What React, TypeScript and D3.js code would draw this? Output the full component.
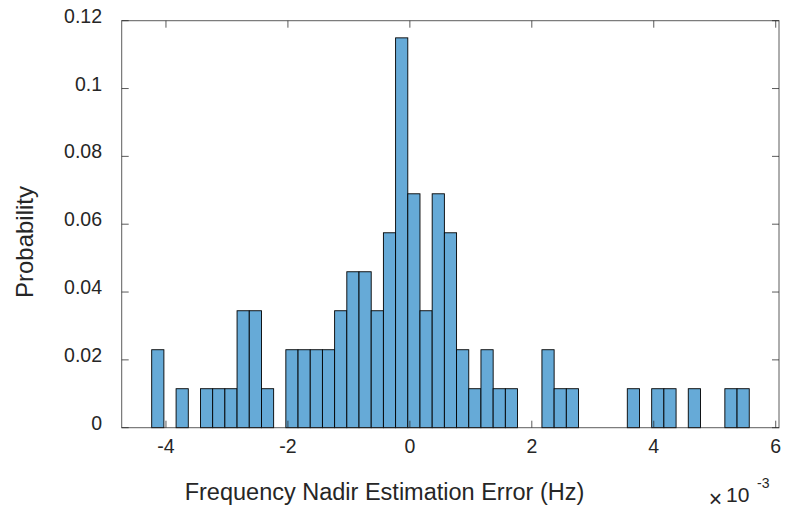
import React from "react";
import * as d3 from "d3";

// Histogram of frequency nadir estimation error (x in units of 1e-3 Hz)
const binStart = -4.234;
const binWidth = 0.2;
const binCounts = [
  2, 0, 1, 0, 1, 1, 1, 3, 3, 1,
  0, 2, 2, 2, 2, 3, 4, 4, 3, 5,
  10, 6, 3, 6, 5, 2, 1, 2, 1, 1,
  0, 0, 2, 1, 1, 0, 0, 0, 0, 1,
  0, 1, 1, 0, 1, 0, 0, 1, 1,
];
const xTicks = [-4, -2, 0, 2, 4, 6];
const yTicks = [0, 0.02, 0.04, 0.06, 0.08, 0.1, 0.12];
const xDomain = [-4.726, 6.054];
const yDomain = [0, 0.12];
const xLabel = "Frequency Nadir Estimation Error (Hz)";
const yLabel = "Probability";

const W = 788;
const H = 512;
const M = { left: 121.7, right: 779, top: 20.7, bottom: 427.7 };
const FONT = "'Liberation Sans', Arial, Helvetica, sans-serif";
const AX = "#262626";

export default function App() {
  const total = d3.sum(binCounts);
  const bins = binCounts.map((c, i) => ({
    x0: binStart + i * binWidth,
    x1: binStart + (i + 1) * binWidth,
    p: c / total,
  }));
  const x = d3.scaleLinear().domain(xDomain).range([M.left, M.right]);
  const y = d3.scaleLinear().domain(yDomain).range([M.bottom, M.top]);
  const tl = 7;
  const fmtY = (v: number) => (v === 0 ? "0" : d3.format("~g")(v));

  return (
    <svg
      width={W}
      height={H}
      style={{ position: "absolute", left: 0, top: 0, background: "#fff" }}
      fontFamily={FONT}
    >
      <rect x={0} y={0} width={W} height={H} fill="#fff" />
      {bins.map((b, i) => (
        <rect
          key={i}
          x={x(b.x0)}
          y={y(b.p)}
          width={x(b.x1) - x(b.x0)}
          height={y(0) - y(b.p)}
          fill="#66aad7"
          stroke="#000"
          strokeWidth={0.9}
        />
      ))}
      {/* axes box */}
      <rect
        x={M.left}
        y={M.top}
        width={M.right - M.left}
        height={M.bottom - M.top}
        fill="none"
        stroke={AX}
        strokeWidth={1}
        opacity={0.75}
      />
      {xTicks.map((t) => (
        <g key={"x" + t}>
          <line x1={x(t)} x2={x(t)} y1={M.bottom} y2={M.bottom - tl} stroke={AX} opacity={0.75} />
          <line x1={x(t)} x2={x(t)} y1={M.top} y2={M.top + tl} stroke={AX} opacity={0.75} />
          <text x={x(t)} y={453} textAnchor="middle" fontSize={19.5} fill={AX}>
            {t < 0 ? "-" + Math.abs(t) : String(t)}
          </text>
        </g>
      ))}
      {yTicks.map((t) => (
        <g key={"y" + t}>
          <line x1={M.left} x2={M.left + tl} y1={y(t)} y2={y(t)} stroke={AX} opacity={0.75} />
          <line x1={M.right} x2={M.right - tl} y1={y(t)} y2={y(t)} stroke={AX} opacity={0.75} />
          <text x={102} y={y(t) + 2} textAnchor="end" fontSize={19.5} fill={AX}>
            {fmtY(t)}
          </text>
        </g>
      ))}
      <text x={384.5} y={500} textAnchor="middle" fontSize={23.5} fill={AX}>
        {xLabel}
      </text>
      <text
        transform={`translate(33,242) rotate(-90)`}
        textAnchor="middle"
        fontSize={24}
        fill={AX}
      >
        {yLabel}
      </text>
      <text x={715.5} y={507} textAnchor="middle" fontSize={23} fill={AX}>
        ×
      </text>
      <text x={726} y={501.5} fontSize={21} fill={AX}>
        10
      </text>
      <text x={757} y={488} fontSize={14} fill={AX}>
        -3
      </text>
    </svg>
  );
}
